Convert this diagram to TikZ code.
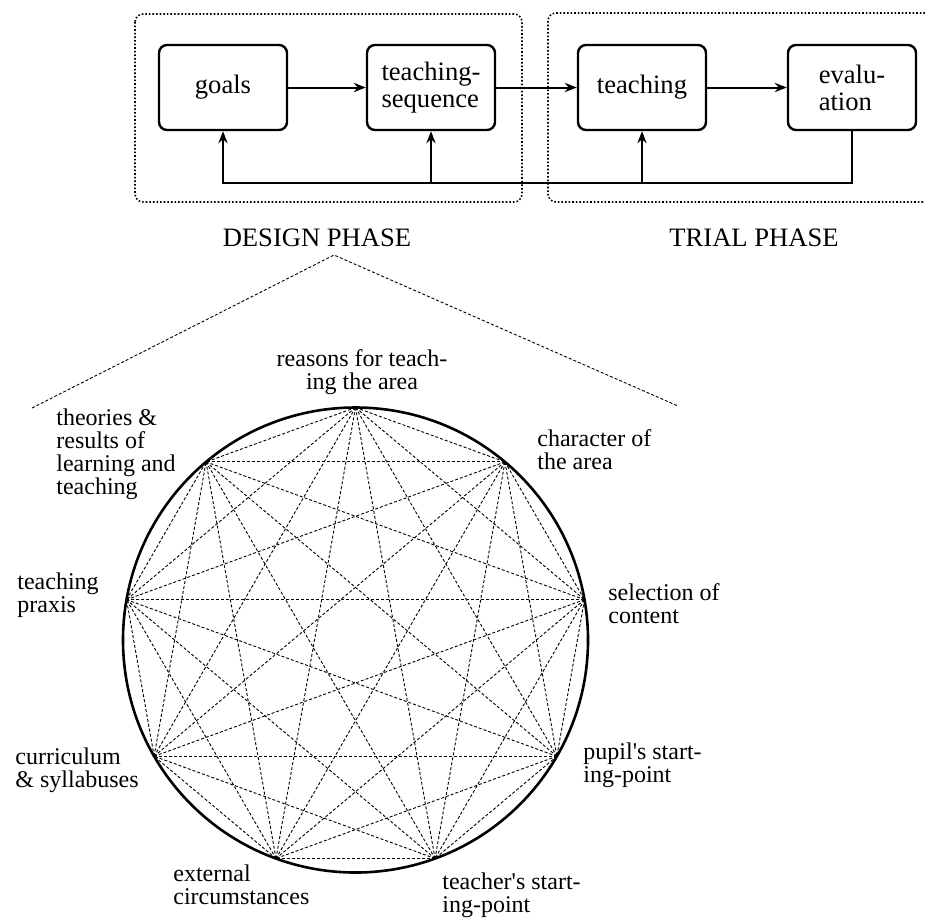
\documentclass[tikz,border=0pt]{standalone}
\usepackage{fontspec}
\setmainfont{Liberation Serif}[Ligatures=TeXOff]
\usetikzlibrary{arrows.meta}

\begin{document}
\begin{tikzpicture}[x=0.5pt,y=-0.5pt]
  \useasboundingbox (0,0) rectangle (925,918);
  \tikzstyle{stage}=[draw, line width=1.2pt, rounded corners=4pt, minimum width=64pt, minimum height=42.5pt, inner sep=0pt, align=left, font=\fontsize{13.3}{13.5}\selectfont]
  \tikzstyle{phase}=[densely dotted, line width=0.8pt, rounded corners=4pt]
  \tikzstyle{flow}=[line width=1pt, -{Stealth[length=6pt,width=4.6pt]}]
  \tikzstyle{chord}=[line width=0.45pt, dash pattern=on 1.5pt off 1pt]
  \tikzstyle{factor}=[inner sep=0pt, align=left, anchor=north west, font=\fontsize{12}{11.5}\selectfont]

  % the two phases
  \draw[phase] (135,14) rectangle (522,202);
  \draw[phase] (925,13) -| (548,202) -- (925,202);
  \node (design)[anchor=base, font=\fontsize{13.3}{14}\selectfont] at (317,246) {DESIGN PHASE};
  \node (trial)[anchor=base, font=\fontsize{13.3}{14}\selectfont] at (754,246) {TRIAL PHASE};

  \node (goals)[stage] at (223,87.5) {goals};
  \node (seq)[stage] at (431,87.5) {teaching-\\sequence};
  \node (teach)[stage] at (642,87.5) {teaching};
  \node (eval)[stage] at (852,87.5) {evalu-\\ation};
  \draw[flow] (goals) -- (seq);
  \draw[flow] (seq) -- (teach);
  \draw[flow] (teach) -- (eval);

  % feedback
  \coordinate (fb) at (0,183);
  \draw[flow] (eval.south) |- (goals.south |- fb) -- (goals.south);
  \draw[flow] (seq.south |- fb) -- (seq.south);
  \draw[flow] (teach.south |- fb) -- (teach.south);

  % zoom into the design phase
  \coordinate (apex) at (334,255);
  \coordinate (fanL) at (32,408);
  \coordinate (fanR) at (678,406);
  \draw[chord] (fanL) -- (apex) -- (fanR);

  \coordinate (hub) at (355.5,640);
  \draw[line width=1.3pt] (hub) circle [radius=232.5];
  \foreach \k in {0,...,8}
    \path (hub) ++({40*\k-90}:232.5) coordinate (p\k);
  \foreach \i in {0,...,7}{
    \pgfmathtruncatemacro\nxt{\i+1}
    \foreach \j in {\nxt,...,8}
      \draw[chord] (p\i) -- (p\j);
  }

  \node (reasons)[factor, anchor=north, align=center] at (362,349) {reasons for teach-\\ing the area};
  \node (character)[factor] at (537,429) {character of\\the area};
  \node (selection)[factor] at (608,583) {selection of\\content};
  \node (pupil)[factor] at (583,742) {pupil's start-\\ing-point};
  \node (teacher)[factor] at (442,872) {teacher's start-\\ing-point};
  \node (external)[factor] at (173,864) {external\\circumstances};
  \node (curriculum)[factor] at (15,747) {curriculum\\\& syllabuses};
  \node (praxis)[factor] at (17,572) {teaching\\praxis};
  \node (theories)[factor] at (56,408) {theories \&\\results of\\learning and\\teaching};
\end{tikzpicture}
\end{document}
